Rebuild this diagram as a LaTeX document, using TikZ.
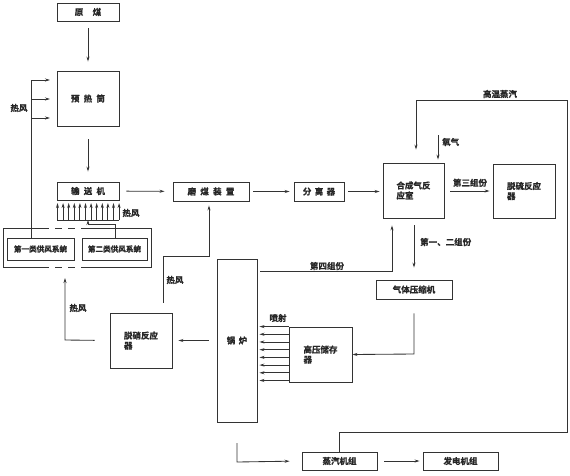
\documentclass[tikz,border=0pt]{standalone}
\usepackage{fontspec}
\newfontfamily\cjk{Noto Sans CJK SC}[UprightFont=* Bold, FakeBold=1]
\usetikzlibrary{arrows.meta,calc}
\tikzset{
  x=1pt,y=-1pt,
  every node/.style={font=\cjk\fontsize{8.5}{10}\selectfont, text=black!85},
  ln/.style={draw=black!80, line width=0.85pt},
  arr/.style={ln, -{Stealth[length=5pt,width=3pt]}},
  box/.style={ln, rectangle, inner sep=0pt, align=left},
  lbl/.style={inner sep=0pt},
}
\begin{document}
\begin{tikzpicture}
\useasboundingbox (0,0) rectangle (570,475);
% boxes
\node[box, minimum width=62, minimum height=18] (yuanmei) at (88,12) {原\hspace{1.1em}煤};
\node[box, minimum width=62, minimum height=55] (yure) at (88,98.5) {预\hspace{0.5em}热\hspace{0.5em}筒};
\node[box, minimum width=62, minimum height=18] (shusong) at (88,191) {输\hspace{0.5em}送\hspace{0.5em}机};
\node[box, minimum width=76, minimum height=19] (momei) at (211,191.5) {磨\hspace{0.5em}煤\hspace{0.5em}装\hspace{0.5em}置};
\node[box, minimum width=50, minimum height=19] (fenli) at (319,191.5) {分\hspace{0.4em}离\hspace{0.4em}器};
\node[box, minimum width=61, minimum height=55] (hecheng) at (413.5,190.5) {合成气反\\应室};
\node[box, minimum width=62, minimum height=54] (tuoliu) at (524,191) {脱硫反应\\器};
\node[box, minimum width=67, minimum height=22, font=\cjk\fontsize{7.6}{9}\selectfont] (gongA) at (40.5,249) {第一类供风系统};
\node[box, minimum width=65, minimum height=22, font=\cjk\fontsize{7.6}{9}\selectfont] (gongB) at (114.5,249) {第二类供风系统};
\node[box, minimum width=40, minimum height=163] (guolu) at (237,340.5) {锅\hspace{0.4em}炉};
\node[box, minimum width=76, minimum height=19] (yasuo) at (414,289.5) {气体压缩机};
\node[box, minimum width=63, minimum height=55] (chucun) at (320.5,354.5) {高压储存\\器};
\node[box, minimum width=62, minimum height=55] (tuoxiao) at (141,340.5) {脱硝反应\\器};
\node[box, minimum width=75, minimum height=18] (zhengqi) at (339.5,461) {蒸汽机组};
\node[box, minimum width=75, minimum height=18] (fadian) at (460.5,461) {发电机组};
% outer supply box with dashed middle parts
\coordinate (oTL) at (3,228);
\coordinate (oBR) at (151,267);
\draw[ln] (42,228) -- (3,228) -- (3,267) -- (42,267);
\draw[ln] (85,228) -- (151,228) -- (151,267) -- (85,267);
\draw[ln, dash pattern=on 7pt off 6pt] (42,228) -- (85,228);
\draw[ln, dash pattern=on 7pt off 6pt] (42,267) -- (85,267);
% main chain
\draw[arr, shorten <=7pt, shorten >=9pt] (yuanmei) -- (yure);
\draw[arr, shorten <=13pt, shorten >=10pt] (yure) -- (shusong);
\draw[arr, shorten <=7pt, shorten >=8pt] (shusong) -- (momei);
\draw[arr, shorten <=4pt, shorten >=4pt] (momei) -- (fenli);
\draw[arr, shorten <=4pt, shorten >=3pt] (fenli.east) -- (hecheng.west |- fenli.east);
\draw[arr, shorten <=6pt, shorten >=3pt] (hecheng.east |- tuoliu.west) -- (tuoliu.west);
\node[lbl, anchor=south] (l3) at (470,187) {第三组份};
\draw[arr, shorten <=7pt, shorten >=12pt] (hecheng.south -| yasuo.north) -- (yasuo.north);
\node[lbl, anchor=west] (l12) at (420,242) {第一、二组份};
% steam loop
\coordinate (s1) at (339,432);
\coordinate (s2) at (567,432);
\coordinate (s3) at (567,100);
\coordinate (s4) at (416,100);
\draw[arr, shorten >=13pt] (zhengqi.north -| s1) -- (s1) -- (s2) -- (s3) -- (s4) -- (s4 |- hecheng.north);
\node[lbl] (lsteam) at (500,94) {高温蒸汽};
% oxygen
\coordinate (ox) at (438,135);
\draw[arr, shorten >=3pt] (ox) -- (ox |- hecheng.north);
\node[lbl, anchor=west] (lox) at (442,142) {氧气};
% fourth component
\coordinate (f1) at (392,271);
\draw[arr, {Stealth[length=5pt,width=3pt]}-, shorten <=7pt, shorten >=3pt] (f1 |- hecheng.south) -- (f1) -- (f1 -| guolu.east);
\node[lbl] (l4) at (327,266) {第四组份};
% compressor to storage
\coordinate (c1) at (414,354);
\draw[arr, shorten <=14pt] (yasuo.south) -- (c1) -- (chucun.east);
% sprays
\foreach \i in {0,...,7} {
  \draw[arr] ($(chucun.north west)+(0,\i*7.7)$) -- ($(guolu.east |- chucun.north west)+(2,\i*7.7)$);
}
\node[lbl] (lspray) at (278,318) {喷射};
% boiler to denitration
\draw[arr, shorten <=8pt, shorten >=6pt] (guolu.west |- tuoxiao.east) -- (tuoxiao.east);
% denitration to supply box
\coordinate (d1) at (65,340);
\draw[arr, shorten <=15pt, shorten >=11pt] (tuoxiao.west) -- (d1) -- (d1 |- oBR);
\node[lbl] (lh1) at (78,308) {热风};
% denitration to mill
\coordinate (m1) at (163,256);
\coordinate (m2) at (209,256);
\draw[arr, shorten <=10pt, shorten >=4pt] (m1 |- tuoxiao.north) -- (m1) -- (m2) -- (m2 |- momei.south);
\node[lbl] (lh2) at (175,280) {热风};
% boiler to steam set
\coordinate (b1) at (237,443);
\coordinate (b2) at (237,462);
\draw[arr, shorten >=12pt] (b1) -- (b2) -- (zhengqi.west);
\draw[arr, shorten <=7pt, shorten >=3pt] (zhengqi) -- (fadian);
% hot air to preheater
\coordinate (h0) at (31,80);
\draw[ln] (h0) -- (h0 |- gongA.north);
\foreach \yy in {80,99,118} {
  \draw[arr] (31,\yy) -- (50,\yy);
}
\node[lbl] (lh3) at (19,108) {热风};
% hot air to conveyor
\draw[ln] (57,220) -- (119,220);
\foreach \i in {0,...,11} {
  \draw[arr] (57.5+\i*5.6,220) -- (57.5+\i*5.6,203);
}
\node[lbl] (lh4) at (131,213) {热风};
\coordinate (g1) at (115,224);
\coordinate (g2) at (88,224);
\draw[arr] (g1 |- gongB.north) -- (g1) -- (g2) -- (88,220);
\end{tikzpicture}
\end{document}
